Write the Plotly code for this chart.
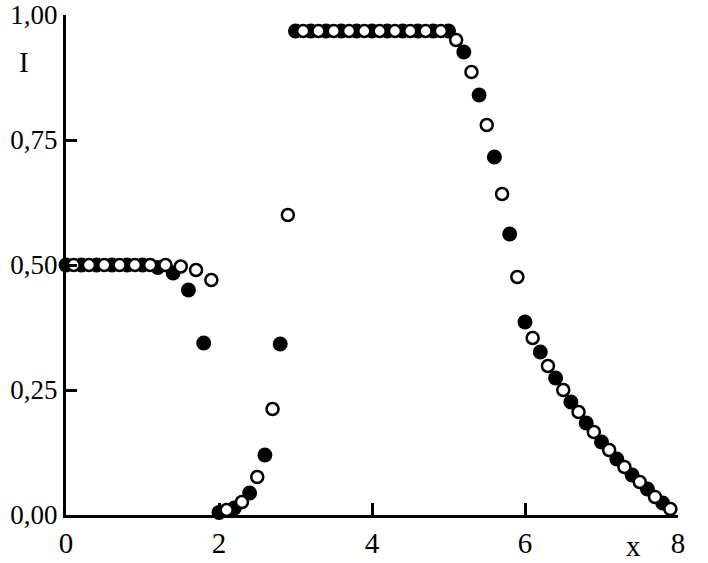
import plotly.graph_objects as go

filled_x = [0.0, 0.2, 0.4, 0.6, 0.8, 1.0, 1.2, 1.4, 1.6, 1.8,
            2.0, 2.2, 2.4, 2.6, 2.8,
            3.0, 3.2, 3.4, 3.6, 3.8, 4.0, 4.2, 4.4, 4.6, 4.8, 5.0,
            5.2, 5.4, 5.6, 5.8, 6.0, 6.2, 6.4, 6.6, 6.8, 7.0, 7.2, 7.4, 7.6, 7.8]
filled_y = [0.50, 0.50, 0.50, 0.50, 0.50, 0.50, 0.495, 0.484, 0.45, 0.344,
            0.005, 0.014, 0.044, 0.12, 0.342,
            0.968, 0.968, 0.968, 0.968, 0.968, 0.968, 0.968, 0.968, 0.968, 0.968, 0.968,
            0.926, 0.84, 0.716, 0.562, 0.386, 0.326, 0.274, 0.226, 0.184, 0.146, 0.112, 0.08, 0.052, 0.024]

open_x = [0.1, 0.3, 0.5, 0.7, 0.9, 1.1, 1.3, 1.5, 1.7, 1.9,
          2.1, 2.3, 2.5, 2.7, 2.9,
          3.1, 3.3, 3.5, 3.7, 3.9, 4.1, 4.3, 4.5, 4.7, 4.9,
          5.1, 5.3, 5.5, 5.7, 5.9, 6.1, 6.3, 6.5, 6.7, 6.9, 7.1, 7.3, 7.5, 7.7, 7.9]
open_y = [0.50, 0.50, 0.50, 0.50, 0.50, 0.50, 0.50, 0.497, 0.49, 0.47,
          0.01, 0.026, 0.076, 0.212, 0.60,
          0.968, 0.968, 0.968, 0.968, 0.968, 0.968, 0.968, 0.968, 0.968, 0.968,
          0.95, 0.886, 0.78, 0.642, 0.476, 0.354, 0.298, 0.25, 0.206, 0.166, 0.13, 0.096, 0.066, 0.036, 0.012]

x_ticks = [0, 2, 4, 6, 8]
x_ticktext = ["0", "2", "4", "6", "8"]
y_ticks = [0, 0.25, 0.5, 0.75, 1.0]
y_ticktext = ["0,00", "0,25", "0,50", "0,75", "1,00"]

FONT = "Liberation Serif"
FS = 29
FS_Y = 27

W, H = 708, 563
# plot area in page pixels: x 66..678, y 15..515
L, T = 66, 15
R, B = 708 - 678, 563 - 515
PW, PH = W - L - R, H - T - B


def px_x(page_x):
    return (page_x - L) / PW


def px_y(page_y):
    return (H - B - page_y) / PH


fig = go.Figure()
fig.add_trace(go.Scatter(
    x=filled_x, y=filled_y, mode="markers", cliponaxis=False,
    marker=dict(symbol="circle", size=15, color="black", line=dict(width=0)),
    showlegend=False))
fig.add_trace(go.Scatter(
    x=open_x, y=open_y, mode="markers", cliponaxis=False,
    marker=dict(symbol="circle", size=12, color="white", line=dict(width=2.5, color="black")),
    showlegend=False))

fig.update_layout(
    width=W, height=H,
    margin=dict(l=L, r=R, t=T, b=B, autoexpand=False),
    paper_bgcolor="white", plot_bgcolor="white",
    font=dict(family=FONT, size=FS, color="black"),
    xaxis=dict(range=[0, 8], tickvals=x_ticks, ticktext=x_ticktext,
               ticks="inside", ticklen=12, tickwidth=2.5, tickcolor="black",
               showline=True, linecolor="black", linewidth=3,
               showgrid=False, zeroline=False, automargin=False,
               ticklabeloverflow="allow",
               tickfont=dict(family=FONT, size=FS)),
    yaxis=dict(range=[0, 1], tickvals=y_ticks, ticktext=y_ticktext,
               ticks="inside", ticklen=11, tickwidth=2.5, tickcolor="black",
               showline=True, linecolor="black", linewidth=3,
               showgrid=False, zeroline=False, automargin=False,
               ticklabeloverflow="allow",
               tickfont=dict(family=FONT, size=FS_Y)),
    annotations=[
        dict(text="I", x=px_x(24), y=px_y(62), xref="paper", yref="paper",
             showarrow=False, xanchor="center", yanchor="middle",
             font=dict(family=FONT, size=FS)),
        dict(text="x", x=px_x(633), y=px_y(546), xref="paper", yref="paper",
             showarrow=False, xanchor="center", yanchor="middle",
             font=dict(family=FONT, size=FS)),
    ],
)

# remove the default page margin so the figure fills the 708x563 window exactly
fig.write_html("out.html",
               config={"displayModeBar": False},
               post_script="document.body.style.margin='0px';document.body.style.padding='0px';")
